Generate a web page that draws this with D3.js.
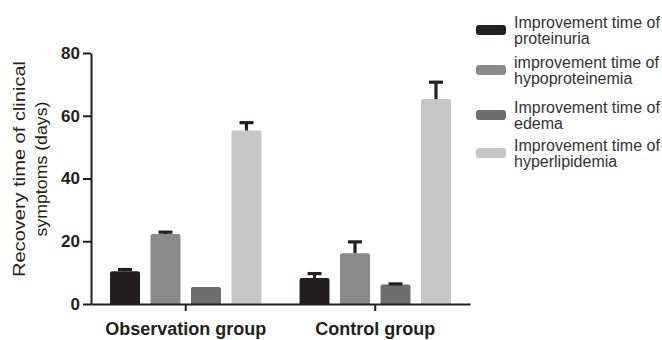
<!DOCTYPE html>
<html>
<head>
<meta charset="utf-8">
<script src="https://cdn.jsdelivr.net/npm/d3@7"></script>
<style>
  html, body { margin: 0; padding: 0; background: #fff; }
  svg { display: block; font-family: "Liberation Sans", Arial, Helvetica, sans-serif; }
</style>
</head>
<body>
<svg id="chart" width="662" height="340"></svg>
<script>
// Groups along the x axis
const groups = ["Observation group", "Control group"];

// Symptom series (legend order)
const seriesNames = [
  ["Improvement time of", "proteinuria"],
  ["improvement time of", "hypoproteinemia"],
  ["Improvement time of", "edema"],
  ["Improvement time of", "hyperlipidemia"]
];
const seriesColors = ["#231f20", "#8a8a8a", "#6e6e6e", "#c6c6c6"];

// Mean recovery time (days) per series, one value per group
const proteinuria     = [10.4, 8.3];
const hypoproteinemia = [22.3, 16.2];
const edema           = [5.4, 6.2];
const hyperlipidemia  = [55.3, 65.3];

// Upper error (SD) per series, one value per group
const proteinuriaErr     = [0.6, 1.4];
const hypoproteinemiaErr = [0.6, 3.6];
const edemaErr           = [0.0, 0.2];
const hyperlipidemiaErr  = [2.5, 5.4];

const yTicks = [0, 20, 40, 60, 80];
const yTitle = ["Recovery time of clinical", "symptoms (days)"];

const means = [proteinuria, hypoproteinemia, edema, hyperlipidemia];
const errs  = [proteinuriaErr, hypoproteinemiaErr, edemaErr, hyperlipidemiaErr];

const svg = d3.select("#chart");
const ink = "#231f20";

const x0 = d3.scaleBand().domain(groups).range([91, 470]);
const x1 = d3.scaleBand().domain(d3.range(seriesNames.length))
  .range([0, x0.bandwidth()]).paddingInner(0.26).paddingOuter(0.47);
const y = d3.scaleLinear().domain([0, 80]).range([304, 53]);

// Bars
const rows = [];
groups.forEach((g, gi) => {
  means.forEach((s, si) => {
    rows.push({ g, si, v: s[gi], e: errs[si][gi] });
  });
});

const bars = svg.append("g");
bars.selectAll("path.bar").data(rows).join("path")
  .attr("class", "bar")
  .attr("fill", d => seriesColors[d.si])
  .attr("d", d => {
    const xl = x0(d.g) + x1(d.si), w = x1.bandwidth();
    const yt = y(d.v), yb = y(0), r = 2;
    return `M${xl},${yb}V${yt + r}Q${xl},${yt} ${xl + r},${yt}H${xl + w - r}Q${xl + w},${yt} ${xl + w},${yt + r}V${yb}Z`;
  });

// Error bars (upper only)
const eb = svg.append("g").attr("stroke", ink).attr("stroke-width", 3.2).attr("fill", "none");
rows.filter(d => d.e > 0).forEach(d => {
  const cx = x0(d.g) + x1(d.si) + x1.bandwidth() / 2;
  eb.append("line").attr("x1", cx).attr("x2", cx).attr("y1", y(d.v)).attr("y2", y(d.v + d.e));
  eb.append("line").attr("x1", cx - 7).attr("x2", cx + 7).attr("y1", y(d.v + d.e)).attr("y2", y(d.v + d.e));
});

// Y axis
const yAxis = svg.append("g").attr("transform", "translate(91,0)")
  .call(d3.axisLeft(y).tickValues(yTicks).tickSize(8).tickSizeOuter(0).tickPadding(3));
yAxis.select(".domain").attr("stroke", ink).attr("stroke-width", 2);
yAxis.selectAll(".tick line").attr("stroke", ink).attr("stroke-width", 2);
yAxis.selectAll(".tick text").attr("fill", ink)
  .style("font-size", "17px").style("font-weight", "bold")
  .style("font-family", "'Liberation Sans', Arial, sans-serif");

// X axis
const xAxis = svg.append("g").attr("transform", "translate(0,304)")
  .call(d3.axisBottom(x0).tickSize(7).tickSizeOuter(0).tickPadding(11));
xAxis.select(".domain").attr("stroke", ink).attr("stroke-width", 2);
xAxis.selectAll(".tick line").attr("stroke", ink).attr("stroke-width", 2);
xAxis.selectAll(".tick text").attr("fill", ink)
  .style("font-size", "18px").style("font-weight", "bold")
  .style("font-family", "'Liberation Sans', Arial, sans-serif");

// Y axis title
const title = svg.append("g").attr("fill", ink)
  .style("font-size", "17px");
const titleLen = [216, 135];
const titleX = [25, 47];
yTitle.forEach((t, i) => {
  title.append("text")
    .attr("transform", `translate(${titleX[i]},169) rotate(-90)`)
    .attr("text-anchor", "middle")
    .attr("textLength", titleLen[i])
    .attr("lengthAdjust", "spacingAndGlyphs")
    .text(t);
});

// Legend: swatch centre per entry, two text lines beside each swatch
const legendCenter = [30, 70, 115, 153];
const legend = svg.append("g");
seriesNames.forEach((lines, i) => {
  const g = legend.append("g").attr("transform", `translate(476,${legendCenter[i]})`);
  g.append("rect").attr("x", 0).attr("y", -5).attr("width", 30).attr("height", 10)
    .attr("rx", 3).attr("fill", seriesColors[i]);
  lines.forEach((ln, k) => {
    g.append("text").attr("x", 38).attr("y", -2 + k * 15.5)
      .attr("fill", "#333").style("font-size", "16px").text(ln);
  });
});
</script>
</body>
</html>
